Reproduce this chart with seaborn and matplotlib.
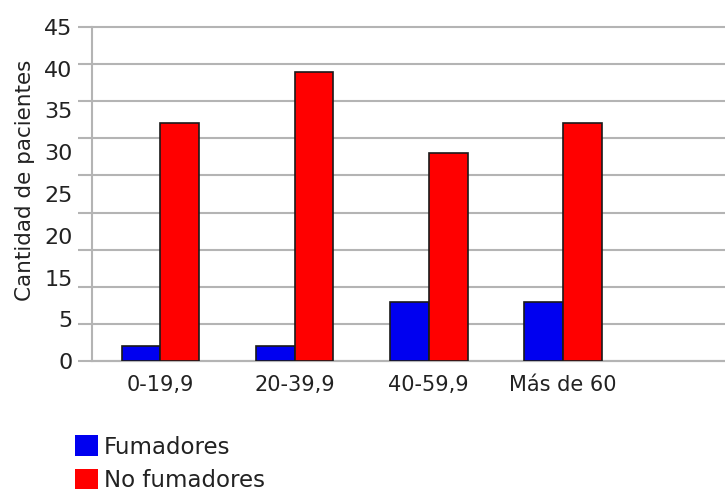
import numpy as np
import pandas as pd
import matplotlib
matplotlib.use("Agg")
import matplotlib.pyplot as plt
import seaborn as sns
from matplotlib.patches import Patch

# datos
grupos = ["0-19,9", "20-39,9", "40-59,9", "Más de 60"]
fumadores = [2, 2, 8, 8]
no_fumadores = [32, 39, 28, 32]
series = ["Fumadores", "No fumadores"]
colores = ["#0000f0", "#ff0000"]
# etiquetas del eje y tal como aparecen (sin el 10)
etiquetas_y = ["0", "5", "15", "20", "25", "30", "35", "40", "45"]

df = pd.DataFrame({
    "grupo": grupos * 2,
    "valor": fumadores + no_fumadores,
    "serie": [series[0]] * len(grupos) + [series[1]] * len(grupos),
})

sns.set_style("white")
plt.rcParams["font.family"] = ["DejaVu Sans"]

fig = plt.figure(figsize=(7.25, 4.95), dpi=100)
ax = fig.add_axes([92 / 725, 1 - 361 / 495, 1 - 92 / 725, (361 - 27) / 495])

sns.barplot(data=df, x="grupo", y="valor", hue="serie", palette=colores,
            width=0.58, edgecolor="#1a1a1a", linewidth=1.2, saturation=1,
            legend=False, ax=ax, zorder=3)

ax.set_xlim(-0.51, 4.21)
ax.set_ylim(0, 45)

# lineas de cuadricula cada 5, etiquetas desalineadas como en el original
ax.yaxis.remove_overlapping_locs = False
ax.set_yticks(np.arange(0, 46, 5), minor=True)
ax.set_yticks(np.linspace(0, 45, 9))
ax.set_yticklabels(etiquetas_y)
ax.grid(True, which="minor", axis="y", color="#b4b4b4", linewidth=1.5, zorder=0, clip_on=False)
ax.grid(False, which="major")
ax.tick_params(axis="y", which="minor", left=True, length=10, width=1.5, color="#b4b4b4", direction="out")
ax.tick_params(axis="y", which="major", left=True, length=0, pad=14, labelsize=16, labelcolor="#222222")
ax.tick_params(axis="x", length=0, pad=10, labelsize=15, labelcolor="#222222")

for s in ["top", "right"]:
    ax.spines[s].set_visible(False)
for s in ["left", "bottom"]:
    ax.spines[s].set_color("#b4b4b4")
    ax.spines[s].set_linewidth(1.5)

ax.set_xlabel("")
ax.set_ylabel("Cantidad de pacientes", fontsize=15.5, color="#222222")
ax.yaxis.set_label_coords(-0.09, 0.542)

handles = [Patch(facecolor=c, edgecolor="none") for c in colores]
fig.legend(handles, series, loc="upper left", bbox_to_anchor=(64 / 725, 1 - 424 / 495),
           frameon=False, fontsize=16.5, handlelength=1.0, handleheight=1.0,
           handletextpad=0.25, labelspacing=0.45, borderpad=0, labelcolor="#222222")

fig.savefig("out.png", dpi=100)
